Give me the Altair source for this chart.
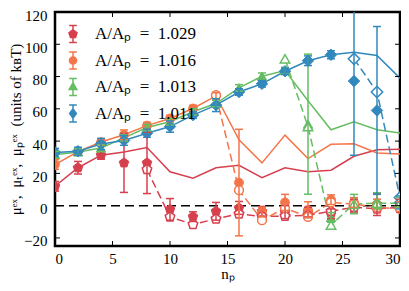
import altair as alt
import pandas as pd

n_vals = [0, 2, 4, 6, 8, 10, 12, 14, 16, 18, 20, 22, 24, 26, 28, 30]
labels = ["A/Aₚ\u2002=\u20021.029", "A/Aₚ\u2002=\u20021.016", "A/Aₚ\u2002=\u20021.013", "A/Aₚ\u2002=\u20021.011"]
colors = ["#d6404e", "#f4754a", "#66bd63", "#3288bd"]

# filled markers (with error bars)
red_mu = [12, 23.5, 31.3, 26.5, 26.5, -2.3, -6.8, -3.5, -1.4, -3.5, -4, -4, -5, 0, 0.7, 0]
red_err = [3, 3.9, 2.5, 18.3, 19, 6.7, 3, 5.5, 4, 3, 4, 3, 3, 4, 6.8, 4]
org_mu = [25.5, 33.5, 39.4, 43.9, 49.6, 54, 60.2, 68, 14.3, -4, 2, -2.6, 3.7, 2, 1, -0.5]
org_err = [3, 2, 2, 3, 2, 2, 2, 2, 33, 3, 5, 5, 3, 3, 3, 3]
grn_mu = [31.6, 33.3, 35.7, 42, 48.4, 52, 58.2, 63.3, 73, 80.2, 83.7, 50.5, -7.3, 1, 3, 2]
grn_err = [2, 2, 2, 2, 2, 2, 2, 2, 2, 2, 2, 43.4, 3, 6, 5, 3]
blu_mu = [33, 33.7, 38.2, 40.4, 44.9, 49, 56.1, 62.3, 70.4, 75.5, 83.3, 89.8, 93.5, 77.2, 59, 2]
blu_err = [2.5, 2.5, 3.5, 3, 2.5, 3.5, 2, 4, 2, 2, 2, 3, 2.5, 46, 52, 4]

# solid lines
red_line = [12, 23.5, 31.3, 33.3, 36, 21, 17, 23.5, 25, 17.3, 23.5, 21, 22, 30.6, 34.7, 35]
org_line = [25.5, 33.5, 39.4, 43.9, 49.6, 54, 60.2, 68, 40.8, 26.5, 43.7, 29.2, 38, 38.3, 32.7, 32]
grn_line = [31.6, 33.3, 35.7, 42, 48.4, 52, 58.2, 63.3, 73, 80.2, 83.7, 65, 47, 52, 47, 45]
blu_line = [33, 33.7, 38.2, 40.4, 44.9, 49, 56.1, 62.3, 70.4, 75.5, 83.3, 89.8, 93.5, 95, 93, 79]

# open markers (dashed lines)
red_open_n = [8, 10, 12, 14, 16, 18, 20, 22, 24, 26, 28, 30]
red_open = [22.4, -7, -11.6, -8.2, -5.1, -6.7, -6.5, -6, -3.5, -1, -2, -1]
org_open_n = [14, 16, 18, 20, 22, 24, 26, 28, 30]
org_open = [68.4, 9.6, -9, -1.5, -7, 2, 1, -1, -2]
grn_open_n = [20, 22, 24, 26, 28, 30]
grn_open = [91, 49, -12, 1, 1.5, 1.5]
blu_open_n = [26, 28, 30]
blu_open = [91, 70.4, 5]

x_ticks = [0, 5, 10, 15, 20, 25, 30]
y_ticks = [-20, 0, 20, 40, 60, 80, 100, 120]

W, H = 345, 234
FONT = "Liberation Serif"

pent = "M0,-1L0.951,-0.309L0.588,0.809L-0.588,0.809L-0.951,-0.309Z"
shapes = [pent, "circle", "triangle-up", "diamond"]
sizes = [100, 78, 90, 130]

ebar = "M-0.45,-1H0.45M0,-1V1M-0.45,1H0.45"
leg_paths = [
    ebar + "M0,-0.5L0.476,-0.155L0.294,0.405L-0.294,0.405L-0.476,-0.155Z",
    ebar + "M0.42,0A0.42,0.42 0 1,1 -0.42,0A0.42,0.42 0 1,1 0.42,0Z",
    ebar + "M0,-0.5L0.45,0.3L-0.45,0.3Z",
    ebar + "M0,-0.55L0.4,0L0,0.55L-0.4,0Z",
]

series = [
    (red_mu, red_err, red_line, red_open_n, red_open),
    (org_mu, org_err, org_line, org_open_n, org_open),
    (grn_mu, grn_err, grn_line, grn_open_n, grn_open),
    (blu_mu, blu_err, blu_line, blu_open_n, blu_open),
]

xs = alt.Scale(domain=[0, 30], nice=False, zero=False)
ys = alt.Scale(domain=[-25, 120], nice=False, zero=False)

x_axis = alt.Axis(values=x_ticks, format="d", title="nₚ", labelOverlap=False)
y_axis = alt.Axis(values=y_ticks, format="d",
                  title="μᵉˣ,\u2002μₜᵉˣ,\u2002μₚᵉˣ\u2002(units of kʙT)", labelOverlap=False)

layers = []

# zero line carries both axes
zero_df = pd.DataFrame({"n": [0, 30], "v": [0, 0]})
layers.append(
    alt.Chart(zero_df).mark_line(color="black", strokeWidth=1.5, strokeDash=[9, 5]).encode(
        x=alt.X("n:Q", scale=xs, axis=x_axis), y=alt.Y("v:Q", scale=ys, axis=y_axis)
    )
)

point_layers = []
open_layers = []
err_layers = []
line_layers = []
for i, (mu, err, line, on, ov) in enumerate(series):
    c = colors[i]
    df = pd.DataFrame({"n": n_vals, "mu": mu, "err": err, "line": line})
    df["lo"] = df["mu"] - df["err"]
    df["hi"] = df["mu"] + df["err"]
    odf = pd.DataFrame({"n": on, "v": ov})
    line_layers.append(
        alt.Chart(df).mark_line(color=c, strokeWidth=1.5, clip=True).encode(
            x=alt.X("n:Q", scale=xs, axis=x_axis), y=alt.Y("line:Q", scale=ys, axis=y_axis)
        )
    )
    line_layers.append(
        alt.Chart(odf).mark_line(color=c, strokeWidth=1.5, strokeDash=[8, 4], clip=True).encode(
            x=alt.X("n:Q", scale=xs, axis=x_axis), y=alt.Y("v:Q", scale=ys, axis=y_axis)
        )
    )
    point_layers.append(
        alt.Chart(df).mark_point(shape=shapes[i], size=sizes[i], filled=True, fill=c,
                                 stroke=c, strokeWidth=1, opacity=1, clip=True).encode(
            x=alt.X("n:Q", scale=xs, axis=x_axis), y=alt.Y("mu:Q", scale=ys, axis=y_axis)
        )
    )
    open_layers.append(
        alt.Chart(odf).mark_point(shape=shapes[i], size=sizes[i], filled=False, fill="white",
                                  fillOpacity=1, stroke=c, strokeWidth=1.5, opacity=1, clip=True).encode(
            x=alt.X("n:Q", scale=xs, axis=x_axis), y=alt.Y("v:Q", scale=ys, axis=y_axis)
        )
    )
    err_layers.append(
        alt.Chart(df).mark_rule(color=c, strokeWidth=1.5, clip=True).encode(
            x=alt.X("n:Q", scale=xs, axis=x_axis), y=alt.Y("lo:Q", scale=ys, axis=y_axis), y2="hi:Q"
        )
    )
    for f in ["lo", "hi"]:
        err_layers.append(
            alt.Chart(df).mark_tick(color=c, orient="horizontal", size=8, thickness=1.5,
                                    opacity=1, clip=True).encode(
                x=alt.X("n:Q", scale=xs, axis=x_axis), y=alt.Y(f + ":Q", scale=ys, axis=y_axis)
            )
        )

layers += line_layers + point_layers + open_layers + err_layers

# legend-only layer
leg_df = pd.DataFrame({"label": labels, "n": [0, 0, 0, 0], "v": [red_mu[0], org_mu[0], grn_mu[0], blu_mu[0]]})
legend = alt.Legend(title=None, orient="none", legendX=8.5, legendY=12.5, padding=0,
                    labelFont=FONT, labelFontSize=17, labelColor="black", labelOffset=12.5,
                    symbolSize=289, symbolStrokeWidth=1.5, rowPadding=3.5, symbolOpacity=1,
                    labelLimit=300)
layers.append(
    alt.Chart(leg_df).mark_point(filled=True, opacity=0, size=1).encode(
        x=alt.X("n:Q", scale=xs, axis=x_axis), y=alt.Y("v:Q", scale=ys, axis=y_axis),
        fill=alt.Fill("label:N", scale=alt.Scale(domain=labels, range=colors), legend=legend, sort=labels),
        stroke=alt.Stroke("label:N", scale=alt.Scale(domain=labels, range=colors), legend=legend, sort=labels),
        shape=alt.Shape("label:N", scale=alt.Scale(domain=labels, range=leg_paths), legend=legend, sort=labels),
    )
)

# inward ticks
xt = pd.DataFrame({"t": x_ticks})
yt = pd.DataFrame({"t": y_ticks})
layers.append(alt.Chart(xt).mark_rule(color="black", strokeWidth=1).encode(
    x=alt.X("t:Q", scale=xs, axis=x_axis), y=alt.value(H), y2=alt.value(H - 5)))
layers.append(alt.Chart(xt).mark_rule(color="black", strokeWidth=1).encode(
    x=alt.X("t:Q", scale=xs, axis=x_axis), y=alt.value(0), y2=alt.value(5)))
layers.append(alt.Chart(yt).mark_rule(color="black", strokeWidth=1).encode(
    y=alt.Y("t:Q", scale=ys, axis=y_axis), x=alt.value(0), x2=alt.value(5)))
layers.append(alt.Chart(yt).mark_rule(color="black", strokeWidth=1).encode(
    y=alt.Y("t:Q", scale=ys, axis=y_axis), x=alt.value(W - 5), x2=alt.value(W)))

chart = alt.layer(*layers).properties(
    width=W, height=H, padding={"left": 47, "top": 4, "right": 1, "bottom": 37}, autosize="none"
).configure(font=FONT).configure_view(
    stroke="black", strokeWidth=2.5
).configure_axis(
    grid=False, ticks=False, domain=False, labelFont=FONT, labelFontSize=15, labelColor="black",
    titleFont=FONT, titleColor="black", titleFontWeight="normal", labelOverlap=False
).configure_axisX(
    labelPadding=5, titlePadding=0, titleFontSize=15
).configure_axisY(
    labelPadding=8, titlePadding=0, titleFontSize=15, labelOffset=3
)

chart.save("out.html", embed_options={"renderer": "svg", "actions": False})
